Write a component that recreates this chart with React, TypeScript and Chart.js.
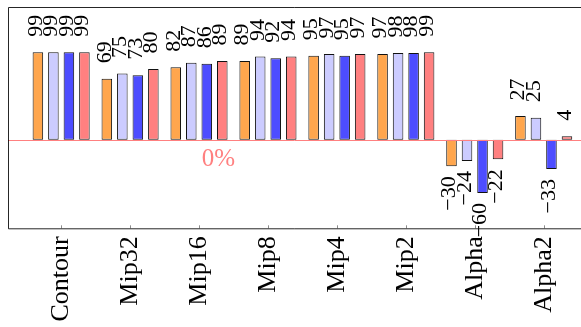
import React, { useEffect, useRef } from 'react';
import { Chart, registerables } from 'chart.js';

Chart.register(...registerables);

const categories = ['Contour', 'Mip32', 'Mip16', 'Mip8', 'Mip4', 'Mip2', 'Alpha', 'Alpha2'];
const seriesOrange = [99, 69, 82, 89, 95, 97, -30, 27];
const seriesLavender = [99, 75, 87, 94, 97, 98, -24, 25];
const seriesBlue = [99, 73, 86, 92, 95, 98, -60, -33];
const seriesRed = [99, 80, 89, 94, 97, 99, -22, 4];
const seriesColors = ['#ffa64d', '#ccccff', '#4d4dff', '#ff8080'];
const zeroLabel = '0%';

const SERIF = "'Liberation Serif', 'Times New Roman', serif";

const framePlugin = {
  id: 'frameAndLabels',
  afterDatasetsDraw(chart: any) {
    const ctx = chart.ctx as CanvasRenderingContext2D;
    const { left, right, top, bottom } = chart.chartArea;
    const xs = chart.scales.x;
    const ys = chart.scales.y;
    const y0 = ys.getPixelForValue(0);

    ctx.save();
    // zero line
    ctx.strokeStyle = '#ff8080';
    ctx.lineWidth = 1;
    ctx.beginPath();
    ctx.moveTo(left, Math.round(y0) + 0.5);
    ctx.lineTo(chart.width, Math.round(y0) + 0.5);
    ctx.stroke();

    // frame
    ctx.strokeStyle = 'rgba(0,0,0,0.85)';
    ctx.beginPath();
    ctx.moveTo(chart.width, top + 0.5);
    ctx.lineTo(left + 0.5, top + 0.5);
    ctx.lineTo(left + 0.5, bottom + 0.5);
    ctx.lineTo(chart.width, bottom + 0.5);
    ctx.stroke();

    // inward ticks
    ctx.strokeStyle = 'rgba(0,0,0,0.45)';
    ctx.beginPath();
    for (let i = 0; i < categories.length; i++) {
      const px = Math.round(xs.getPixelForValue(i)) + 0.5;
      ctx.moveTo(px, bottom);
      ctx.lineTo(px, bottom - 3);
    }
    ctx.stroke();

    // "0%" label
    ctx.fillStyle = '#ff8080';
    ctx.font = `25px ${SERIF}`;
    ctx.textAlign = 'center';
    ctx.textBaseline = 'alphabetic';
    ctx.fillText(zeroLabel, xs.getPixelForValue(2.28), y0 + 26.5);

    // value labels
    ctx.fillStyle = '#000';
    ctx.font = `22px ${SERIF}`;
    ctx.textBaseline = 'middle';
    chart.data.datasets.forEach((ds: any, di: number) => {
      const meta = chart.getDatasetMeta(di);
      meta.data.forEach((bar: any, i: number) => {
        const v = ds.data[i].y as number;
        const txt = v < 0 ? '\u2212' + Math.abs(v) : String(v);
        const bx = bar.x - 2;
        ctx.save();
        if (v >= 0) {
          ctx.translate(bx, bar.y - 15.5);
          ctx.rotate(-Math.PI / 2);
          ctx.textAlign = 'left';
        } else {
          ctx.translate(bx, bar.y + 10);
          ctx.rotate(-Math.PI / 2);
          ctx.textAlign = 'right';
        }
        ctx.fillText(txt, 0, 0);
        ctx.restore();
      });
    });
    ctx.restore();
  },
};

export default function App() {
  const ref = useRef<HTMLCanvasElement>(null);

  useEffect(() => {
    if (!ref.current) return;
    const all = [seriesOrange, seriesLavender, seriesBlue, seriesRed];
    const chart = new Chart(ref.current, {
      type: 'bar',
      data: {
        datasets: all.map((s, k) => ({
          label: 's' + k,
          data: s.map((v, i) => ({ x: i, y: v })),
          backgroundColor: seriesColors[k],
          borderColor: '#111',
          borderWidth: 1,
          borderSkipped: false,
          categoryPercentage: 0.9,
          barPercentage: 0.68,
        })),
      },
      options: {
        animation: false,
        responsive: false,
        events: [],
        layout: { padding: { left: 8, top: 7, right: 0, bottom: 0 } },
        plugins: { legend: { display: false }, tooltip: { enabled: false } },
        scales: {
          x: {
            type: 'linear',
            min: -0.771,
            max: 7.541,
            offset: false,
            grid: { display: false, drawTicks: false },
            border: { display: false },
            afterFit: (scale: any) => {
              scale.height = 98.7;
              scale.paddingLeft = 0;
              scale.paddingRight = 0;
            },
            ticks: {
              stepSize: 1,
              autoSkip: false,
              includeBounds: false,
              maxRotation: 90,
              minRotation: 90,
              padding: 8,
              color: '#000',
              font: { family: SERIF, size: 26 },
              callback: (v: any) => {
                const n = Number(v);
                return Number.isInteger(n) && n >= 0 && n < categories.length ? categories[n] : '';
              },
            },
          },
          y: {
            display: false,
            min: -100,
            max: 150,
          },
        },
      },
      plugins: [framePlugin],
    } as any);
    return () => chart.destroy();
  }, []);

  return (
    <div style={{ position: 'absolute', left: 0, top: 0, width: 581, height: 327, overflow: 'hidden', background: '#fff' }}>
      <canvas ref={ref} width={581} height={327} style={{ display: 'block' }} />
    </div>
  );
}
